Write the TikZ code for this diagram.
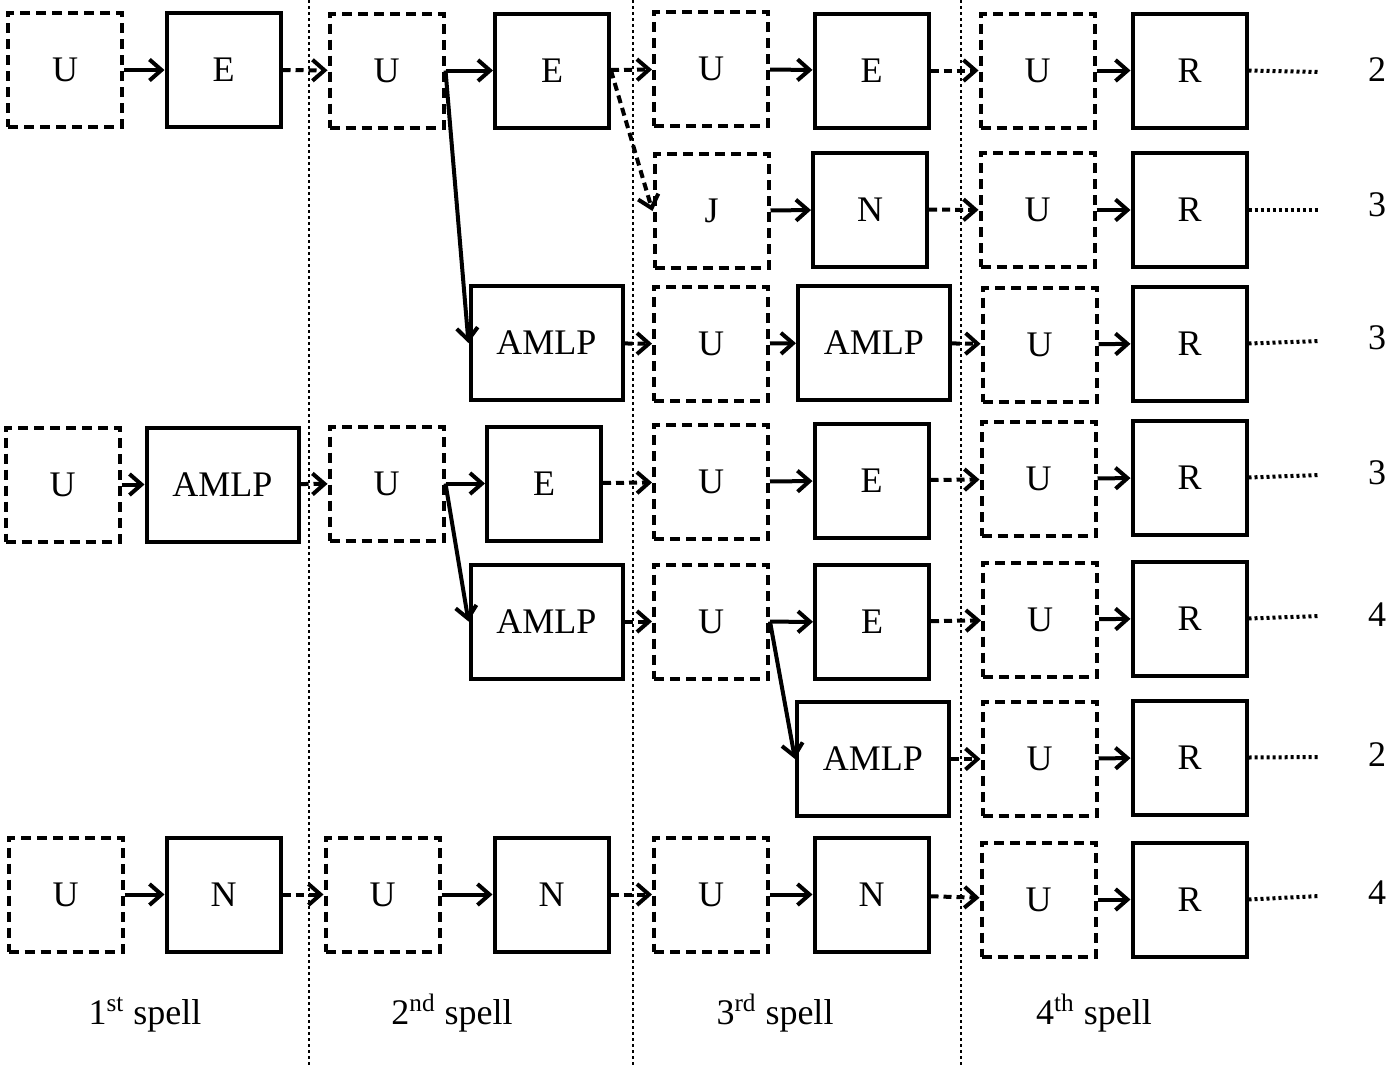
\documentclass[tikz,border=0pt]{standalone}
\usepackage{fontspec}
\setmainfont{Liberation Serif}
\usetikzlibrary{arrows.meta}
\begin{document}
\begin{tikzpicture}[x=0.5pt,y=-0.5pt,
  font=\fontsize{18}{21}\selectfont,
  solidbox/.style={draw,line width=2pt,minimum width=57pt,minimum height=57pt,inner sep=0pt},
  widebox/.style={solidbox,minimum width=76pt},
  dashbox/.style={solidbox,dash pattern=on 5pt off 3pt},
  arr/.style={line width=2pt,-{Straight Barb[length=6pt,width=10.5pt,line width=2pt]}},
  darr/.style={arr,dash pattern=on 4pt off 2.5pt},
  lead/.style={line width=2pt,dash pattern=on 1.5pt off 1.5pt},
  divider/.style={line width=1.4pt,dash pattern=on 1.4pt off 1.6pt},
  count/.style={inner sep=0pt},
  spell/.style={anchor=base,inner sep=0pt}]
\useasboundingbox (0,0) rectangle (1387,1066);
% dividers
\draw[divider] (309,0) -- (309,1066);
\draw[divider] (633,0) -- (633,1066);
\draw[divider] (961,0) -- (961,1066);
% row 1
\node[dashbox]  (a1) at (65,70) {U};
\node[solidbox] (a2) at (223.5,70) {E};
\node[dashbox]  (a3) at (386.5,70.5) {U};
\node[solidbox] (a4) at (552,70.5) {E};
\node[dashbox]  (a5) at (711,69) {U};
\node[solidbox] (a6) at (871.5,70.5) {E};
\node[dashbox]  (a7) at (1037.5,70.5) {U};
\node[solidbox] (a8) at (1189.5,70.5) {R};
\coordinate (a9) at (1320,72);
\node[count] (n1) at (1377,70) {2};
% row 2
\node[dashbox]  (b5) at (711.5,211) {J};
\node[solidbox] (b6) at (870,209.5) {N};
\node[dashbox]  (b7) at (1037.5,210) {U};
\node[solidbox] (b8) at (1189.5,210) {R};
\coordinate (b9) at (1320,210);
\node[count] (n2) at (1377,205) {3};
% row 3
\node[widebox]  (c4) at (546.5,343) {AMLP};
\node[dashbox]  (c5) at (711,344) {U};
\node[widebox]  (c6) at (874,342.5) {AMLP};
\node[dashbox]  (c7) at (1039.5,344.5) {U};
\node[solidbox] (c8) at (1189.5,343.5) {R};
\coordinate (c9) at (1320,341);
\node[count] (n3) at (1377,338) {3};
% row 4
\node[dashbox]  (d1) at (62.5,484.5) {U};
\node[widebox]  (d2) at (222.5,484.5) {AMLP};
\node[dashbox]  (d3) at (386.5,483.5) {U};
\node[solidbox] (d4) at (544,483.5) {E};
\node[dashbox]  (d5) at (711,482) {U};
\node[solidbox] (d6) at (871.5,480.5) {E};
\node[dashbox]  (d7) at (1038.5,479) {U};
\node[solidbox] (d8) at (1189.5,477.5) {R};
\coordinate (d9) at (1320,475);
\node[count] (n4) at (1377,473) {3};
% row 5
\node[widebox]  (e4) at (546.5,621.5) {AMLP};
\node[dashbox]  (e5) at (711,621.5) {U};
\node[solidbox] (e6) at (872,622) {E};
\node[dashbox]  (e7) at (1040,619.5) {U};
\node[solidbox] (e8) at (1189.5,618.5) {R};
\coordinate (e9) at (1320,616);
\node[count] (n5) at (1377,615) {4};
% row 6
\node[widebox]  (f6) at (873,759) {AMLP};
\node[dashbox]  (f7) at (1039.5,759) {U};
\node[solidbox] (f8) at (1189.5,757.5) {R};
\coordinate (f9) at (1320,757);
\node[count] (n6) at (1377,755) {2};
% row 7
\node[dashbox]  (g1) at (65.5,894.5) {U};
\node[solidbox] (g2) at (223.5,894.5) {N};
\node[dashbox]  (g3) at (382.5,894.5) {U};
\node[solidbox] (g4) at (551.5,894.5) {N};
\node[dashbox]  (g5) at (711,894.5) {U};
\node[solidbox] (g6) at (871.5,894.5) {N};
\node[dashbox]  (g7) at (1038.5,899.5) {U};
\node[solidbox] (g8) at (1189.5,899.5) {R};
\coordinate (g9) at (1320,896);
\node[count] (n7) at (1377,893) {4};
% connectors row 1
\draw[arr]  (a1) -- (a2);
\draw[darr] (a2) -- (a3);
\draw[arr]  (a3) -- (a4);
\draw[arr]  (a3.east) -- (c4.west);
\draw[darr] (a4) -- (a5);
\draw[darr] (a4.east) -- (b5.west);
\draw[arr]  (a5) -- (a6);
\draw[darr] (a6) -- (a7);
\draw[arr]  (a7) -- (a8);
% row 2
\draw[arr]  (b5) -- (b6);
\draw[darr] (b6) -- (b7);
\draw[arr]  (b7) -- (b8);
% row 3
\draw[darr] (c4) -- (c5);
\draw[arr]  (c5) -- (c6);
\draw[darr] (c6) -- (c7);
\draw[arr]  (c7) -- (c8);
% row 4
\draw[arr]  (d1) -- (d2);
\draw[darr] (d2) -- (d3);
\draw[arr]  (d3) -- (d4);
\draw[arr]  (d3.east) -- (e4.west);
\draw[darr] (d4) -- (d5);
\draw[arr]  (d5) -- (d6);
\draw[darr] (d6) -- (d7);
\draw[arr]  (d7) -- (d8);
% row 5
\draw[darr] (e4) -- (e5);
\draw[arr]  (e5) -- (e6);
\draw[arr]  (e5.east) -- (f6.west);
\draw[darr] (e6) -- (e7);
\draw[arr]  (e7) -- (e8);
% row 6
\draw[darr] (f6) -- (f7);
\draw[arr]  (f7) -- (f8);
% row 7
\draw[arr]  (g1) -- (g2);
\draw[darr] (g2) -- (g3);
\draw[arr]  (g3) -- (g4);
\draw[darr] (g4) -- (g5);
\draw[arr]  (g5) -- (g6);
\draw[darr] (g6) -- (g7);
\draw[arr]  (g7) -- (g8);
% leaders
\draw[lead] (a8.east) -- (a9);
\draw[lead] (b8.east) -- (b9);
\draw[lead] (c8.east) -- (c9);
\draw[lead] (d8.east) -- (d9);
\draw[lead] (e8.east) -- (e9);
\draw[lead] (f8.east) -- (f9);
\draw[lead] (g8.east) -- (g9);
% spell labels
\node[spell] (s1) at (145,1024) {1\textsuperscript{st} spell};
\node[spell] (s2) at (452,1024) {2\textsuperscript{nd} spell};
\node[spell] (s3) at (775,1024) {3\textsuperscript{rd} spell};
\node[spell] (s4) at (1094,1024) {4\textsuperscript{th} spell};
\end{tikzpicture}
\end{document}
